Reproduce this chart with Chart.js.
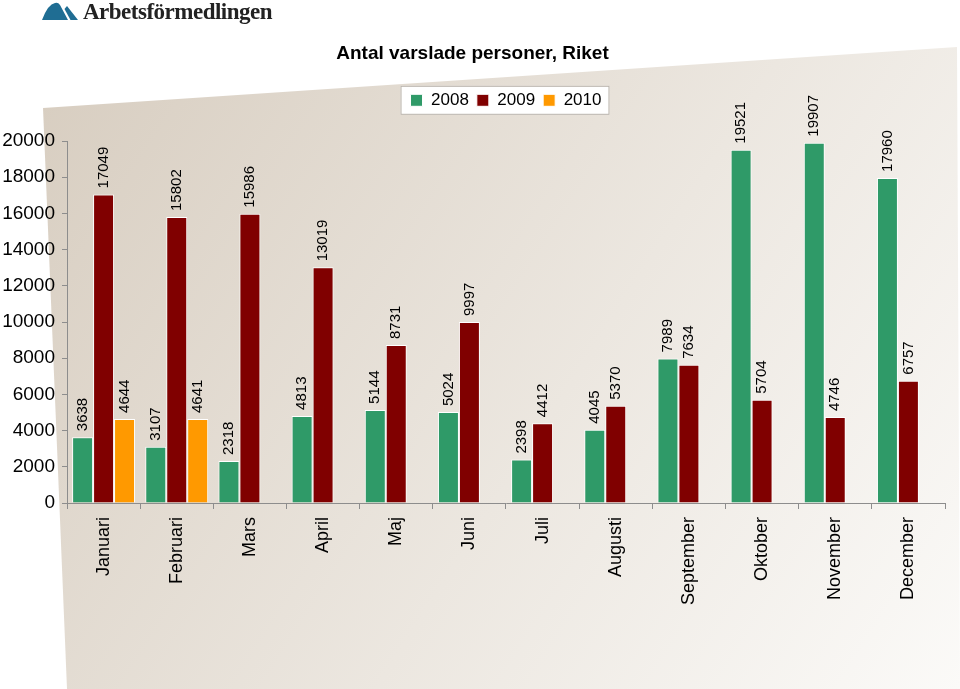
<!DOCTYPE html>
<html>
<head>
<meta charset="utf-8">
<script src="https://cdn.jsdelivr.net/npm/chart.js@4"></script>
<style>
  body { margin: 0; background: #fff; }
  #wrap { position: relative; width: 960px; height: 689px; overflow: hidden; }
  #logo { position: absolute; left: 42px; top: 0px; height: 24px; display: flex; align-items: flex-end; }
  #logo svg { margin-bottom: 4px; }
  #logo span { font-family: "Liberation Serif", "DejaVu Serif", serif; font-weight: bold; font-size: 23px; line-height: 24px; color: #222; margin-left: 5px; letter-spacing: -0.5px; }
  canvas { position: absolute; left: 0; top: 0; }
</style>
</head>
<body>
<div id="wrap">
  <canvas id="varselChart" width="960" height="689"></canvas>
  <div id="logo">
    <svg width="36" height="18" viewBox="0 0 36 18">
      <path d="M0 18 Q6 2 13 1 Q16 0 18 3 L26 18 Z" fill="#1f6d93"/>
      <path d="M22.5 7 L25 4 L36 18 L28.5 18 Z" fill="#1f6d93"/>
    </svg>
    <span>Arbetsförmedlingen</span>
  </div>
</div>
<script>
const months = ['Januari', 'Februari', 'Mars', 'April', 'Maj', 'Juni', 'Juli', 'Augusti', 'September', 'Oktober', 'November', 'December'];
const y2008 = [3638, 3107, 2318, 4813, 5144, 5024, 2398, 4045, 7989, 19521, 19907, 17960];
const y2009 = [17049, 15802, 15986, 13019, 8731, 9997, 4412, 5370, 7634, 5704, 4746, 6757];
const y2010 = [4644, 4641, null, null, null, null, null, null, null, null, null, null];
const yTicks = [0, 2000, 4000, 6000, 8000, 10000, 12000, 14000, 16000, 18000, 20000];

const FONT = '"Liberation Sans", Arial, sans-serif';

// beige slanted backdrop + white legend frame
const backdrop = {
  id: 'backdrop',
  beforeDraw(chart) {
    const c = chart.ctx;
    c.save();
    const g = c.createLinearGradient(40, 100, 960, 689);
    g.addColorStop(0, '#d8cec1');
    g.addColorStop(0.55, '#ece7e0');
    g.addColorStop(1, '#fbfaf8');
    c.fillStyle = g;
    c.beginPath();
    c.moveTo(43, 108);
    c.lineTo(957, 47);
    c.lineTo(960, 689);
    c.lineTo(67, 689);
    c.closePath();
    c.fill();

    const boxes = chart.legend.legendHitBoxes;
    if (boxes && boxes.length) {
      const l = boxes[0].left - 10;
      const r = boxes[boxes.length - 1].left + boxes[boxes.length - 1].width + 8;
      const t = boxes[0].top - 6;
      const b = boxes[0].top + boxes[0].height + 6;
      c.fillStyle = '#ffffff';
      c.strokeStyle = '#b8b2aa';
      c.lineWidth = 1;
      c.fillRect(l, t, r - l, b - t);
      c.strokeRect(l + 0.5, t + 0.5, r - l - 1, b - t - 1);
    }
    c.restore();
  }
};

// rotated value labels above each bar
const barLabels = {
  id: 'barLabels',
  afterDatasetsDraw(chart) {
    const c = chart.ctx;
    c.save();
    c.font = '15px ' + FONT;
    c.fillStyle = '#000';
    c.textAlign = 'left';
    c.textBaseline = 'middle';
    chart.data.datasets.forEach((ds, i) => {
      chart.getDatasetMeta(i).data.forEach((bar, j) => {
        const v = ds.data[j];
        if (v === null) return;
        c.save();
        c.translate(bar.x, bar.y - 6);
        c.rotate(-Math.PI / 2);
        c.fillText(String(v), 0, 0);
        c.restore();
      });
    });
    c.restore();
  }
};

const ctx = document.getElementById('varselChart').getContext('2d');
new Chart(ctx, {
  type: 'bar',
  data: {
    labels: months,
    datasets: [
      { label: '2008', data: y2008, backgroundColor: '#2f9a68', borderColor: '#ffffff', borderWidth: 1 },
      { label: '2009', data: y2009, backgroundColor: '#800000', borderColor: '#ffffff', borderWidth: 1 },
      { label: '2010', data: y2010, backgroundColor: '#ff9900', borderColor: '#ffffff', borderWidth: 1 }
    ]
  },
  options: {
    responsive: false,
    animation: false,
    devicePixelRatio: 1,
    layout: { padding: { left: 0, right: 15, top: 0, bottom: 0 } },
    datasets: { bar: { categoryPercentage: 0.86, barPercentage: 1.0 } },
    plugins: {
      title: {
        display: true,
        text: 'Antal varslade personer, Riket',
        color: '#000',
        font: { family: FONT, size: 19, weight: 'bold' },
        padding: { top: 42, bottom: 19 }
      },
      // empty spacer below the legend
      subtitle: {
        display: true,
        text: '',
        weight: 500,
        font: { size: 1 },
        padding: { top: 0, bottom: 21 }
      },
      legend: {
        display: true,
        position: 'top',
        fullSize: false,
        labels: {
          color: '#000',
          font: { family: FONT, size: 17 },
          boxWidth: 12,
          boxHeight: 12,
          padding: 8
        }
      },
      tooltip: { enabled: false }
    },
    scales: {
      x: {
        grid: { display: true, drawOnChartArea: false, offset: true, tickLength: 6, color: '#8d8d8d' },
        border: { color: '#8d8d8d' },
        ticks: { color: '#000', font: { family: FONT, size: 18 }, minRotation: 90, maxRotation: 90, padding: 8, autoSkip: false },
        afterFit(s) { s.height = 186; }
      },
      y: {
        min: 0,
        max: 20000,
        afterBuildTicks(s) { s.ticks = yTicks.map(v => ({ value: v })); },
        grid: { display: true, drawOnChartArea: false, tickLength: 5, color: '#8d8d8d' },
        border: { color: '#8d8d8d' },
        ticks: { color: '#000', font: { family: FONT, size: 19 }, padding: 7, callback: v => String(v) },
        afterFit(s) { s.width = 67; }
      }
    }
  },
  plugins: [backdrop, barLabels]
});
</script>
</body>
</html>
